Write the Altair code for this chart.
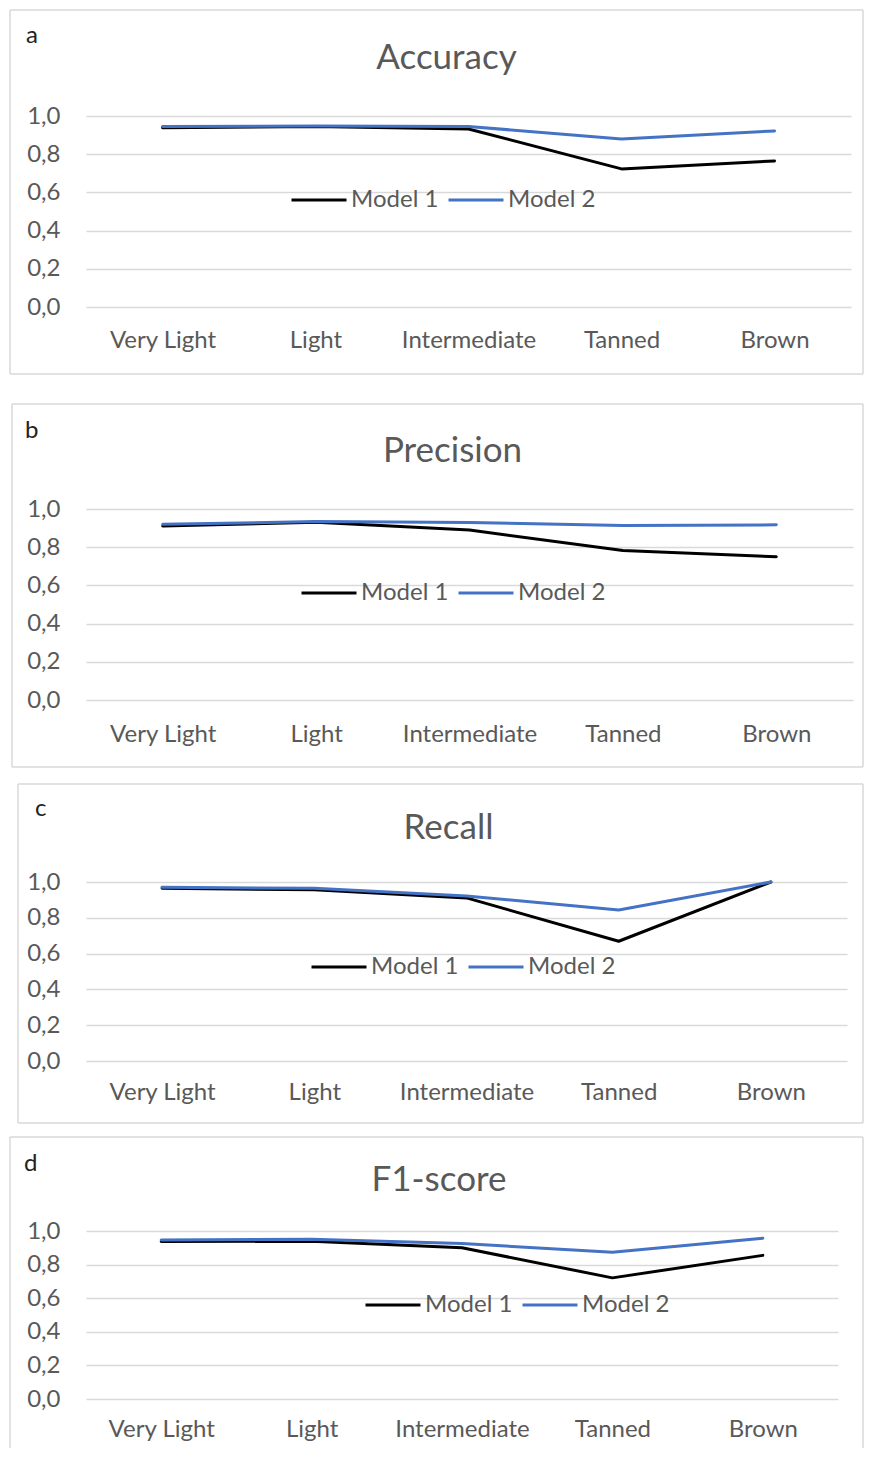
import altair as alt
import pandas as pd

categories = ["Very Light", "Light", "Intermediate", "Tanned", "Brown"]
models = ["Model 1", "Model 2"]

accuracy_m1 = [0.939, 0.945, 0.932, 0.723, 0.765]
accuracy_m2 = [0.945, 0.947, 0.945, 0.880, 0.922]
precision_m1 = [0.911, 0.930, 0.890, 0.783, 0.750]
precision_m2 = [0.920, 0.934, 0.929, 0.913, 0.917]
recall_m1 = [0.965, 0.957, 0.911, 0.669, 1.000]
recall_m2 = [0.970, 0.965, 0.922, 0.844, 1.000]
f1_m1 = [0.937, 0.939, 0.900, 0.721, 0.855]
f1_m2 = [0.947, 0.951, 0.925, 0.874, 0.957]

y_ticks = [0.0, 0.2, 0.4, 0.6, 0.8, 1.0]

FONT = "Lato"
GRAY = "#595959"
GRID = "#d9d9d9"
COLORS = ["#000000", "#4472C4"]
LBL = 24


def panel(letter, title, m1, m2, width, height, box, letter_xy, title_dx,
          title_offset, legend_xy, xlabel_pad, extra_bottom, bottom_edge=True):
    df = pd.DataFrame({
        "category": categories * 2,
        "model": [models[0]] * len(categories) + [models[1]] * len(categories),
        "value": m1 + m2,
    })
    left, top, right, bottom = box
    one = pd.DataFrame({"label": [letter], "title": [title]})

    spacer = alt.Chart(one).mark_rect(opacity=0).encode(
        x=alt.value(left), x2=alt.value(right),
        y=alt.value(top), y2=alt.value(bottom + extra_bottom))
    rule = dict(stroke=GRID, strokeWidth=1.5)
    edges = [
        alt.Chart(one).mark_rule(**rule).encode(
            x=alt.value(left), x2=alt.value(right), y=alt.value(top)),
        alt.Chart(one).mark_rule(**rule).encode(
            x=alt.value(left), y=alt.value(top), y2=alt.value(bottom)),
        alt.Chart(one).mark_rule(**rule).encode(
            x=alt.value(right), y=alt.value(top), y2=alt.value(bottom)),
    ]
    if bottom_edge:
        edges.append(alt.Chart(one).mark_rule(**rule).encode(
            x=alt.value(left), x2=alt.value(right), y=alt.value(bottom)))

    letter_mark = alt.Chart(one).mark_text(
        align="left", baseline="alphabetic", font=FONT, fontSize=LBL,
        color="#222222").encode(
        text="label:N", x=alt.value(letter_xy[0]), y=alt.value(letter_xy[1]))
    title_mark = alt.Chart(one).mark_text(
        align="center", baseline="alphabetic", font=FONT, fontSize=35,
        color=GRAY).encode(
        text="title:N", x=alt.value(width / 2 + title_dx),
        y=alt.value(-title_offset))

    lines = alt.Chart(df).mark_line(
        strokeWidth=3, strokeCap="round", strokeJoin="round").encode(
        x=alt.X("category:N", sort=categories,
                axis=alt.Axis(title=None, labelAngle=0, domain=False,
                              ticks=False, tickSize=0, grid=False,
                              labelFont=FONT, labelFontSize=LBL,
                              labelColor=GRAY, labelBaseline="middle",
                              labelPadding=xlabel_pad)),
        y=alt.Y("value:Q", scale=alt.Scale(domain=[0, 1], nice=False),
                axis=alt.Axis(title=None, values=y_ticks, domain=False,
                              ticks=False, tickSize=0, grid=True,
                              gridColor=GRID, gridWidth=1.5,
                              labelFont=FONT, labelFontSize=LBL,
                              labelColor=GRAY, labelPadding=26,
                              labelExpr="replace(format(datum.value, '.1f'), '.', ',')")),
        color=alt.Color("model:N",
                        scale=alt.Scale(domain=models, range=COLORS),
                        legend=alt.Legend(title=None, orient="none",
                                          direction="horizontal",
                                          legendX=legend_xy[0],
                                          legendY=legend_xy[1],
                                          symbolType="stroke",
                                          symbolSize=3025,
                                          symbolStrokeWidth=3,
                                          labelFont=FONT, labelFontSize=LBL,
                                          labelColor=GRAY, labelOffset=3,
                                          columnPadding=3)),
    )

    return alt.layer(spacer, *edges, letter_mark, title_mark, lines).properties(
        width=width, height=height)


pa = panel("a", "Accuracy", accuracy_m1, accuracy_m2, 765, 191,
           (-76, -106, 777, 258), (-60, -73), -22, 47, (204, 55), 33, 17)
pb = panel("b", "Precision", precision_m1, precision_m2, 767, 191,
           (-74, -105, 777, 258), (-61, -71), -17, 47, (214, 55), 34, 4)
pc = panel("c", "Recall", recall_m1, recall_m2, 761, 179,
           (-68, -98, 777, 241), (-51, -66), -18, 43, (224, 56), 31, 0)
pd_ = panel("d", "F1-score", f1_m1, f1_m2, 752, 168,
            (-76, -94, 777, 217), (-62, -60), -23, 40, (278, 45), 30, 0,
            bottom_edge=False)

chart = alt.vconcat(pa, pb, pc, pd_, spacing=12).resolve_scale(
    x="independent", y="independent", color="independent"
).resolve_legend(color="independent").properties(
    padding={"left": 1, "top": 1, "right": 0, "bottom": 0},
    background="white",
).configure_view(stroke=None)

chart.save("out.html", embed_options={"renderer": "svg", "actions": False})
